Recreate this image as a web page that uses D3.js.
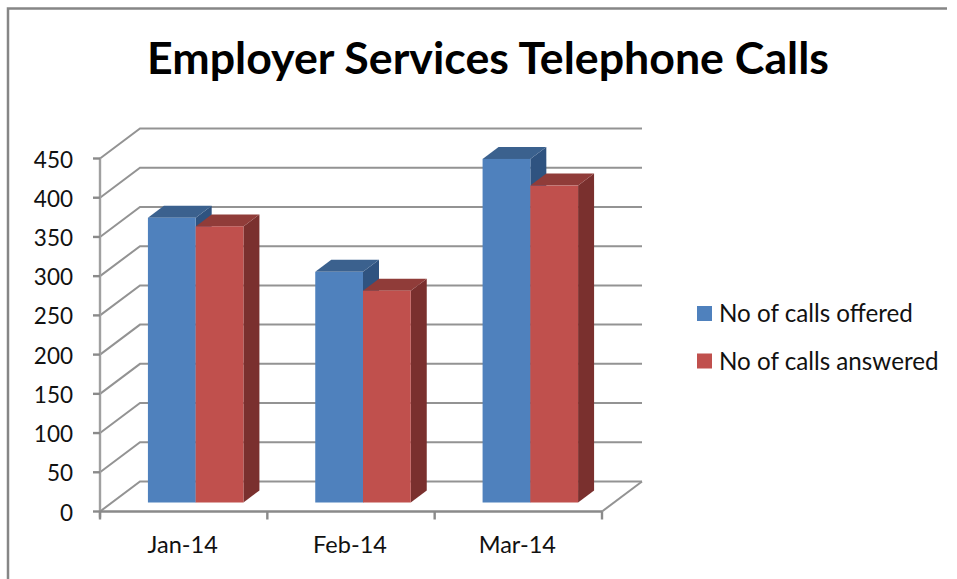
<!DOCTYPE html>
<html><head><meta charset="utf-8">
<script src="https://cdn.jsdelivr.net/npm/d3@7"></script>
<style>html,body{margin:0;padding:0;background:#fff}svg{display:block}text{font-family:Lato,"Open Sans",sans-serif;fill:#111}</style>
</head><body><svg id="c" width="957" height="579"></svg>
<script>
const categories = ["Jan-14","Feb-14","Mar-14"];
const seriesNames = ["No of calls offered","No of calls answered"];
const offered = [363,294,438];
const answered = [352,270,404];
const yTicks = [0,50,100,150,200,250,300,350,400,450];
const titleText = "Employer Services Telephone Calls";
const frontColors = ["#4f81bd","#c0504d"];
const topColors = ["#3b618e","#903c39"];
const sideColors = ["#2f5380","#7a302e"];

const svg = d3.select("#c");
const y = d3.scaleLinear().domain([0,450]).range([511.5,158.5]);
const x0 = d3.scaleBand().domain(categories).range([100,602]);
const x1 = d3.scaleBand().domain([0,1]).range([0,95.5]);
const depthX = 40, depthY = 30;
const barShiftX = 12, barShiftY = 9;
const barDX = 16, barDY = 12;
const barInset = (x0.bandwidth()-95.5)/2;
const gridC = "#939393";

svg.append("path").attr("d","M8,579V8.5H947").attr("fill","none").attr("stroke","#868686").attr("stroke-width",2.5);

const g = svg.append("g").attr("fill","none").attr("stroke",gridC).attr("stroke-width",2);
yTicks.forEach(t=>{
  g.append("path").attr("d",d3.line()([[100,y(t)],[100+depthX,y(t)-depthY],[602+depthX,y(t)-depthY]]));
});
g.append("path").attr("d",d3.line()([[602,y(0)],[602+depthX,y(0)-depthY]]));
const ax = svg.append("g").attr("stroke","#8a8a8a").attr("stroke-width",2.4).attr("fill","none");
ax.append("path").attr("d",`M100,${y(450)}V${y(0)+6}`).attr("stroke","#a0a0a0");
ax.append("path").attr("d",`M100,${y(0)}H602`);
yTicks.forEach(t=>ax.append("path").attr("d",`M93,${y(t)}H100`));
[100,...categories.map(c=>x0(c)+x0.bandwidth())].forEach(v=>ax.append("path").attr("d",`M${v},${y(0)}V${y(0)+8}`));

[offered,answered].forEach((vals,s)=>{
  const gb = svg.append("g");
  vals.forEach((v,i)=>{
    const xL = x0(categories[i])+barInset+barShiftX+x1(s), w = x1.bandwidth();
    const yT = y(v)-barShiftY, yB = y(0)-barShiftY;
    gb.append("path").attr("fill",sideColors[s]).attr("d",d3.line()([[xL+w,yT],[xL+w+barDX,yT-barDY],[xL+w+barDX,yB-barDY],[xL+w,yB]])+"Z");
    gb.append("path").attr("fill",topColors[s]).attr("d",d3.line()([[xL,yT],[xL+barDX,yT-barDY],[xL+w+barDX,yT-barDY],[xL+w,yT]])+"Z");
    gb.append("rect").attr("x",xL).attr("y",yT).attr("width",w).attr("height",yB-yT).attr("fill",frontColors[s]);
  });
});

svg.append("g").selectAll("text").data(yTicks).join("text")
  .attr("x",73).attr("y",d=>y(d)+1).attr("dy","0.36em").attr("text-anchor","end").attr("font-size",22.5).text(d=>d);
svg.append("g").selectAll("text").data(categories).join("text")
  .attr("x",c=>x0(c)+x0.bandwidth()/2-1).attr("y",553).attr("text-anchor","middle").attr("font-size",23.5).text(c=>c);
svg.append("text").attr("x",488).attr("y",74).attr("text-anchor","middle").attr("font-size",44.7).attr("font-weight",700).attr("style","fill:#000").text(titleText);

const lg = svg.append("g").selectAll("g").data(seriesNames).join("g").attr("transform",(d,i)=>`translate(697,${306+i*47.5})`);
lg.append("rect").attr("width",15).attr("height",15).attr("fill",(d,i)=>frontColors[i]);
lg.append("text").attr("x",22).attr("y",16).attr("font-size",24.2).text(d=>d);
</script></body></html>
